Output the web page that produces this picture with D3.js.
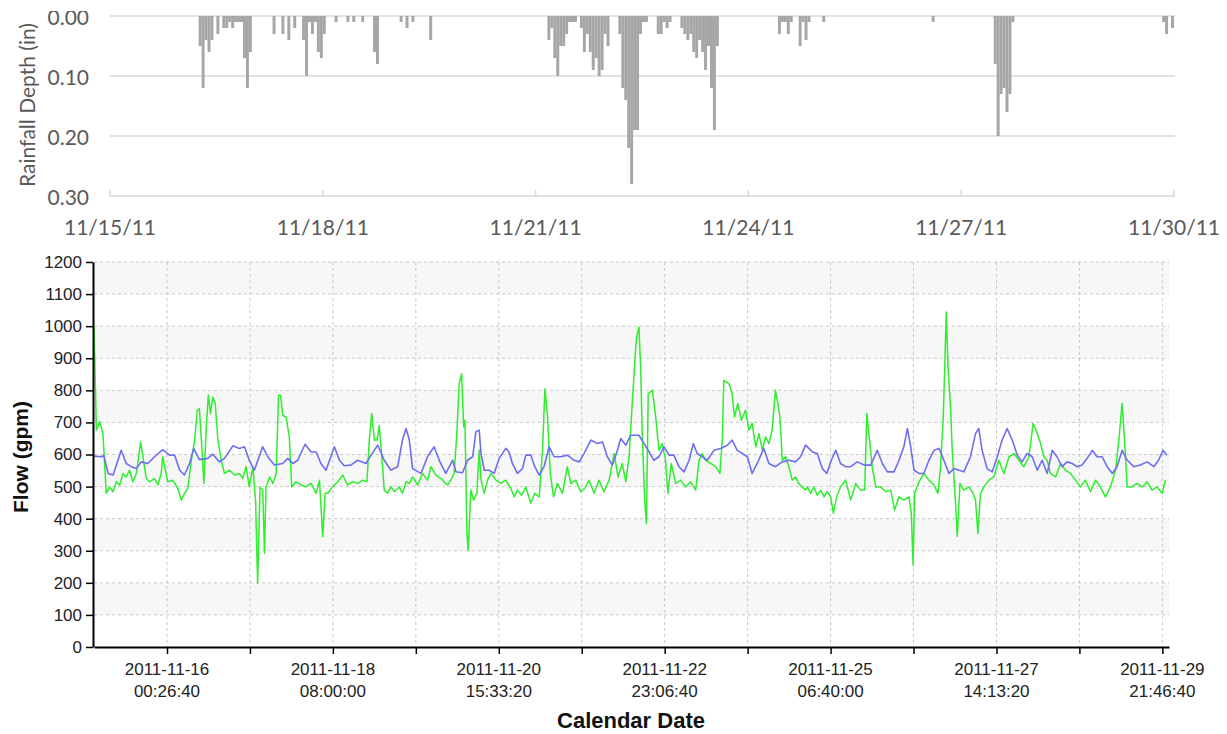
<!DOCTYPE html>
<html>
<head>
<meta charset="utf-8">
<script src="https://cdn.jsdelivr.net/npm/d3@7/dist/d3.min.js"></script>
<style>
  html, body { margin: 0; padding: 0; background: #ffffff; }
  svg { display: block; }
</style>
</head>
<body>
<svg id="chart" width="1227" height="734"></svg>
<script>
// ---- data -------------------------------------------------------------
// Period start; every time value below is in hours after this instant.
const startDate = new Date(2011, 10, 15, 0, 0, 0);
const endDate = new Date(2011, 10, 30, 0, 0, 0);

// Hourly rainfall depth (in) — only the hours with rain are listed.
const rainHours = [30,31,32,33,34,36,38,39,40,41,42,43,44,45,46,47,
  55,58,60,62,65,66,67,68,69,70,71,72,76,80,82,85,89,90,98,100,102,108,
  148,149,150,151,152,153,154,155,156,157,
  159,160,161,162,163,164,165,166,167,168,
  172,173,174,175,176,177,178,179,180,181,
  185,186,187,188,189,
  193,194,195,196,197,198,199,200,201,202,203,204,205,
  226,227,228,229,230,233,234,235,236,241,
  278,
  299,300,301,302,303,304,305,
  356,357,359];
const rainDepth = [0.05,0.12,0.04,0.06,0.04,0.03,0.02,0.02,0.01,0.02,0.01,0.01,0.01,0.07,0.12,0.06,
  0.03,0.03,0.04,0.02,0.04,0.10,0.01,0.03,0.01,0.06,0.07,0.03,0.01,0.01,0.01,0.01,0.06,0.08,0.01,0.02,0.01,0.04,
  0.04,0.02,0.07,0.10,0.05,0.05,0.03,0.01,0.01,0.01,
  0.02,0.06,0.03,0.06,0.09,0.07,0.10,0.09,0.03,0.05,
  0.03,0.12,0.14,0.22,0.28,0.19,0.19,0.03,0.01,0.01,
  0.03,0.03,0.01,0.02,0.01,
  0.02,0.03,0.04,0.03,0.06,0.07,0.04,0.06,0.09,0.05,0.12,0.19,0.05,
  0.03,0.01,0.01,0.03,0.01,0.05,0.01,0.04,0.01,0.01,
  0.01,
  0.08,0.20,0.13,0.12,0.16,0.13,0.01,
  0.01,0.03,0.02];

const rainTicks = ["11/15/11","11/18/11","11/21/11","11/24/11","11/27/11","11/30/11"];
const rainDepthTicks = [0, 0.1, 0.2, 0.3];

// Metered flow (gpm): [hours, value]
const meteredFlow = [
  [0,1000],[0.8,676],[1.9,702],[3,665],[4.1,479],[5.2,499],[6.4,484],[7.5,515],[8.6,505],[9.7,541],
  [10.8,530],[11.9,551],[13,515],[14.2,541],[15.6,639],[16.4,593],[17.5,525],[18.6,515],[20.3,525],[21.4,505],
  [22.5,541],[23,593],[24.7,515],[26.4,520],[28.1,494],[29.2,458],[30.3,479],[31.4,494],[32.6,582],[33.7,645],
  [34.6,738],[35.3,743],[36.1,624],[36.8,510],[37.6,686],[38.3,785],[39,728],[39.8,779],[40.6,759],[41.5,645],
  [42.6,582],[43.7,541],[45.4,551],[47,536],[48.7,541],[49.8,525],[50.9,562],[52,499],[53.2,562],[54.1,458],
  [54.8,199],[55.6,499],[56.5,489],[57.1,292],[57.6,499],[58.8,530],[59.9,510],[61,541],[61.8,785],[62.5,785],
  [63.2,722],[64.3,717],[65.4,655],[66.2,499],[67.6,515],[69.3,505],[71,499],[72.7,510],[74.4,479],[75.5,520],
  [76.6,344],[77.4,479],[78.3,479],[79.9,499],[81.6,515],[83.3,536],[84.9,505],[86.6,515],[88.3,510],[90,520],
  [91.4,515],[92.2,645],[93,728],[93.9,645],[94.8,645],[95.5,691],[96.3,603],[97.2,489],[98.3,479],[99.4,499],
  [100.6,484],[102.2,499],[103.3,479],[104.5,515],[105.6,510],[106.7,530],[108.4,505],[110,541],[111.7,520],[112.8,562],
  [114.5,536],[116.2,525],[117.8,510],
  [118.4,505],[119.5,520],[120.6,541],[121.5,665],[122.3,821],[123.1,852],[123.8,686],[124.2,707],[124.9,354],[125.3,302],
  [126.2,489],[127.1,458],[128.2,479],[129,613],[129.6,520],[130.7,479],[131.8,520],[132.9,541],[134.6,520],[136.2,510],
  [137.9,520],[139.6,494],[140.7,468],[141.8,489],[143.2,473],[144.6,499],[146.3,448],[147.6,479],[149.1,468],[150.2,613],
  [151,805],[151.9,717],[152.8,541],[153.9,468],[155.2,510],[156.9,479],[158.5,562],[159.7,510],[161.3,520],[163,484],
  [164.3,494],[165.8,520],[167.5,479],[169.1,520],[170.8,484],[172.5,520],[174.2,603],[175.5,530],[176.9,572],[178.1,515],
  [179.2,593],[180.3,769],[181.2,904],[181.7,966],[182.5,997],[183.1,862],[183.6,665],[184.4,458],[185,385],[185.6,790],
  [187,800],[188.1,717],[189.2,613],[190.3,634],[191.4,582],[192.2,479],[193.3,572],[194.8,510],[196.5,520],[198.1,499],
  [199.8,515],[201.5,489],[202.6,582],[203.7,603],[204.8,582],[206.5,572],[208.2,562],[209.6,541],[210.4,645],[210.9,831],
  [212.6,821],[213.7,790],[214.5,717],[215.6,759],[216.8,707],[218.2,738],[219.3,676],[220.4,697],[221.6,624],[222.7,665],
  [223.8,613],[224.9,655],[226,634],[227.1,676],[228.2,800],[229,759],[229.7,717],[230.5,582],[231.6,593],[232.7,562],
  [233.8,520],[234.9,530],[236,510],[237.1,499],[238.3,489],
  [238.9,499],[240,479],[241.1,499],[242.2,473],[243.4,489],[244.5,468],[245.6,484],[246.7,468],[247.6,417],[248.7,468],
  [250,499],[251.7,520],[253.4,458],[255.1,510],[256.7,489],[258.1,489],[258.8,728],[259.5,665],[260.6,562],[261.8,499],
  [263.4,499],[265.1,484],[266.8,489],[268.1,427],[269.6,468],[271.2,458],[272.9,468],[273.7,417],[274.3,255],[274.8,479],
  [276.3,515],[277.9,541],[279.6,520],[281.3,505],[282.6,479],[283.5,562],[284.4,717],[284.9,873],[285.4,1044],[286,873],
  [286.9,738],[287.4,613],[288.2,499],[289.1,345],[290,510],[291.3,489],[293,499],[294.1,484],[295.2,458],[296,354],
  [296.9,479],[298,499],[299.7,520],[301.3,530],[303,582],[304.7,541],[306.4,593],[308.1,603],[309.7,582],[311.4,562],
  [313.1,593],[314.5,697],[315.9,665],[317,634],[318.1,593],[319.2,582],[320.3,541],[322,530],[323.7,572],[325.3,551],
  [327,541],[328.7,520],[330.3,499],[332,520],[333.7,484],[335.4,520],[337,499],[338.7,468],[340.4,499],[342.1,551],
  [343.2,645],[344.3,759],[345.1,645],[346,499],[347.6,499],[349.3,510],[351,499],[352.7,515],[354.3,489],[356,499],
  [357.7,479],[358.8,520]
];

// Modelled dry-weather flow (gpm): [hours, value]
const baseFlow = [
  [0,595],[2.5,593],[3.3,597],[4.7,541],[6.4,536],[7.5,567],[9.1,613],[10.8,572],[12.5,562],[14.2,556],
  [15.8,577],[18,572],[20.3,593],[23,615],[25.3,598],[27,598],[28.7,551],[30.3,536],[32,572],[33.4,619],
  [35.3,584],[38.1,588],[39.8,601],[42,577],[43.7,588],[46.5,627],[48.7,619],[50.4,624],[52,582],[53.7,551],
  [56.5,624],[58.2,593],[60.4,567],[63.2,572],[64.9,588],[66.6,572],[68.2,582],[70.7,632],[72.7,608],[74.4,608],
  [76,572],[77.7,551],[80.5,624],[82.2,582],[83.8,565],[86,567],[88.3,582],[91.1,572],[92.8,598],[95,629],
  [97.2,582],[99.4,551],[101.7,562],[103.3,645],[104.5,681],[105.6,645],[106.7,556],[109.5,541],[111.7,593],[113.9,624],
  [115.6,582],[117.8,541],
  [120.1,582],[121.2,546],[123.4,543],[125.1,582],[126.8,593],[127.9,671],[129,676],[129.6,603],[130.7,551],[132.3,551],
  [134,541],[135.7,588],[137.9,619],[139,608],[140.1,572],[141.8,541],[143.5,556],[144.6,598],[146.3,598],[147.6,562],
  [149.1,536],[150.7,562],[152.4,624],[154.1,593],[156.3,593],[158.5,598],[160.8,582],[162.5,577],[164.1,603],[166.4,645],
  [168.6,634],[170.3,639],[171.9,593],[173.6,567],[175.3,613],[176.4,650],[178.1,629],[179.7,660],[182.5,660],[184.2,634],
  [185.9,608],[187.5,582],[189.2,593],[190.9,624],[192.6,598],[194.2,598],[195.9,562],[197.6,546],[199.3,582],[200.7,634],
  [202,603],[203.7,593],[205.4,582],[207.6,613],[209.8,619],[212.1,629],[213.7,645],[215.4,613],[217.1,603],[218.8,593],
  [220.4,541],[222.1,572],[224.3,619],[226,572],[228.2,562],[230.5,577],[232.7,582],[234.9,577],[236.6,593],[238.3,629],
  [240.6,608],[242.2,603],[243.9,556],[245.4,541],[246.9,582],[248.4,613],[250,572],[251.7,562],[253.4,562],[255.6,577],
  [257.9,567],[260.1,567],[262.3,613],[264,572],[265.7,546],[267.9,546],[269.6,582],[271.2,624],[272.4,681],[273.5,624],
  [274.6,551],[276.3,541],[277.9,541],[279.6,582],[281.3,613],[283,619],[284.6,582],[286.3,541],[288,556],[289.6,551],
  [291.3,546],[293.5,593],[295.2,665],[296.3,681],[297.4,613],[299.1,556],[300.8,546],[302.5,593],[304.1,645],[305.8,681],
  [307.5,645],[309.2,598],[310.8,577],[312.5,603],[314.2,593],[315.9,551],[317.5,582],[319.2,541],[320.9,613],[322.5,593],
  [324.2,562],[325.9,577],[327.6,572],[329.2,562],[330.9,567],[332.6,588],[334.3,613],[335.9,593],[337.6,593],[339.3,562],
  [341,541],[342.6,562],[344.3,613],[346,582],[348.2,562],[350.4,567],[352.7,577],[354.9,562],[356.5,582],[358,613],
  [359.3,598]
];

// Flow axis ticks: every 100000 s, labelled every other one.
const flowTimeTicks = [
  "2011-11-16 00:26:40","2011-11-17 04:13:20","2011-11-18 08:00:00","2011-11-19 11:46:40",
  "2011-11-20 15:33:20","2011-11-21 19:20:00","2011-11-22 23:06:40","2011-11-24 02:53:20",
  "2011-11-25 06:40:00","2011-11-26 10:26:40","2011-11-27 14:13:20","2011-11-28 18:00:00",
  "2011-11-29 21:46:40"
];
const flowTicks = d3.range(0, 1201, 100);

// ---- helpers ----------------------------------------------------------
const atHour = h => new Date(startDate.getTime() + h * 3600e3);
const parseTick = d3.timeParse("%Y-%m-%d %H:%M:%S");
const svg = d3.select("#chart");

// ---- rainfall panel ---------------------------------------------------
const rainX = d3.scaleTime().domain([startDate, endDate]).range([110, 1174]);
const rainY = d3.scaleLinear().domain([0, 0.3]).range([16, 196]);
const rainGrey = "#595959";

svg.append("defs").append("clipPath").attr("id", "topClip")
  .append("rect").attr("x", 0).attr("y", 11).attr("width", 1227).attr("height", 240);

const rainPanel = svg.append("g").attr("clip-path", "url(#topClip)");

rainPanel.append("g").selectAll("line").data(rainDepthTicks).join("line")
  .attr("x1", rainX.range()[0]).attr("x2", rainX.range()[1] + 1)
  .attr("y1", d => rainY(d)).attr("y2", d => rainY(d))
  .attr("stroke", "#d9d9d9").attr("stroke-width", 1.5);

rainPanel.append("g").selectAll("text").data(rainDepthTicks).join("text")
  .attr("x", 89).attr("y", d => rainY(d) + 1.5).attr("dy", "0.36em")
  .attr("text-anchor", "end")
  .attr("font-family", "Lato, 'Open Sans', sans-serif").attr("font-size", 21)
  .attr("fill", rainGrey)
  .text(d => d3.format(".2f")(d));

rainPanel.append("g").selectAll("rect").data(rainHours.map((h, i) => ({h, v: rainDepth[i]}))).join("rect")
  .attr("x", d => rainX(atHour(d.h)))
  .attr("width", d => rainX(atHour(d.h + 1)) - rainX(atHour(d.h)))
  .attr("y", rainY(0))
  .attr("height", d => rainY(d.v) - rainY(0))
  .attr("fill", "#a6a6a6");

const rainTickDates = rainTicks.map(d3.timeParse("%m/%d/%y"));
rainPanel.append("g").selectAll("line").data(rainTickDates).join("line")
  .attr("x1", d => rainX(d)).attr("x2", d => rainX(d))
  .attr("y1", rainY(0.3)).attr("y2", rainY(0.3) - 6)
  .attr("stroke", "#d9d9d9").attr("stroke-width", 1.5);

rainPanel.append("g").selectAll("text").data(rainTickDates).join("text")
  .attr("x", d => rainX(d)).attr("y", 235)
  .attr("text-anchor", "middle")
  .attr("font-family", "Lato, 'Open Sans', sans-serif").attr("font-size", 21)
  .attr("fill", rainGrey)
  .text((d, i) => rainTicks[i]);

rainPanel.append("text")
  .attr("transform", "translate(35,105) rotate(-90)")
  .attr("text-anchor", "middle")
  .attr("font-family", "Lato, 'Open Sans', sans-serif").attr("font-size", 21)
  .attr("fill", rainGrey)
  .text("Rainfall Depth (in)");

// ---- flow panel -------------------------------------------------------
const flowX = d3.scaleTime().domain([startDate, endDate]).range([94, 1169]);
const flowY = d3.scaleLinear().domain([0, 1200]).range([647, 262]);
const plotLeft = 94, plotRight = 1169;

// alternating shaded bands
const bands = d3.range(100, 1200, 200);
svg.append("g").selectAll("rect").data(bands).join("rect")
  .attr("x", plotLeft).attr("width", plotRight - plotLeft)
  .attr("y", d => flowY(d + 100)).attr("height", d => flowY(d) - flowY(d + 100))
  .attr("fill", "#f7f7f7");

const tickDates = flowTimeTicks.map(parseTick);

// dashed grid
svg.append("g").selectAll("line").data(flowTicks.filter(d => d > 0)).join("line")
  .attr("x1", plotLeft).attr("x2", plotRight)
  .attr("y1", d => flowY(d)).attr("y2", d => flowY(d))
  .attr("stroke", "#c8c8c8").attr("stroke-dasharray", "3,3");
svg.append("g").selectAll("line").data(tickDates).join("line")
  .attr("x1", d => flowX(d)).attr("x2", d => flowX(d))
  .attr("y1", flowY(1200)).attr("y2", flowY(0))
  .attr("stroke", "#c8c8c8").attr("stroke-dasharray", "3,3");

// series
const line = d3.line().x(d => flowX(atHour(d[0]))).y(d => flowY(d[1]));
svg.append("path").datum(meteredFlow).attr("d", line)
  .attr("fill", "none").attr("stroke", "#2eee2e").attr("stroke-width", 1.5)
  .attr("stroke-linejoin", "round");
svg.append("path").datum(baseFlow).attr("d", line)
  .attr("fill", "none").attr("stroke", "#6e6ef0").attr("stroke-width", 1.6)
  .attr("stroke-linejoin", "round");

// axes
const yAxis = svg.append("g").attr("transform", `translate(${plotLeft - 1},0)`)
  .call(d3.axisLeft(flowY).tickValues(flowTicks).tickFormat(d3.format("d"))
    .tickSize(7).tickSizeOuter(0).tickPadding(4));
yAxis.select(".domain").attr("stroke", "#000").attr("stroke-width", 2);
yAxis.selectAll(".tick line").attr("stroke", "#000").attr("stroke-width", 1.5);
yAxis.selectAll(".tick text")
  .attr("font-family", "'Liberation Sans', Arial, sans-serif").attr("font-size", 17).attr("fill", "#222");

const xAxis = svg.append("g").attr("transform", `translate(0,${flowY(0)})`)
  .call(d3.axisBottom(flowX).tickValues(tickDates).tickSize(7).tickSizeOuter(0).tickFormat(""));
xAxis.select(".domain").attr("stroke", "#000").attr("stroke-width", 2);
xAxis.selectAll(".tick line").attr("stroke", "#000").attr("stroke-width", 1.5);

const labelled = tickDates.filter((d, i) => i % 2 === 0);
const xl = svg.append("g").selectAll("text").data(labelled).join("text")
  .attr("text-anchor", "middle")
  .attr("font-family", "'Liberation Sans', Arial, sans-serif").attr("font-size", 17).attr("fill", "#222");
xl.append("tspan").attr("x", d => flowX(d)).attr("y", 675).text(d3.timeFormat("%Y-%m-%d"));
xl.append("tspan").attr("x", d => flowX(d)).attr("y", 697).text(d3.timeFormat("%H:%M:%S"));

svg.append("text")
  .attr("x", 631).attr("y", 728).attr("text-anchor", "middle")
  .attr("font-family", "'Liberation Sans', Arial, sans-serif").attr("font-size", 22)
  .attr("font-weight", "bold").attr("fill", "#111")
  .text("Calendar Date");

svg.append("text")
  .attr("transform", "translate(28,457) rotate(-90)")
  .attr("text-anchor", "middle")
  .attr("font-family", "'Liberation Sans', Arial, sans-serif").attr("font-size", 21)
  .attr("font-weight", "bold").attr("fill", "#111")
  .text("Flow (gpm)");
</script>
</body>
</html>
